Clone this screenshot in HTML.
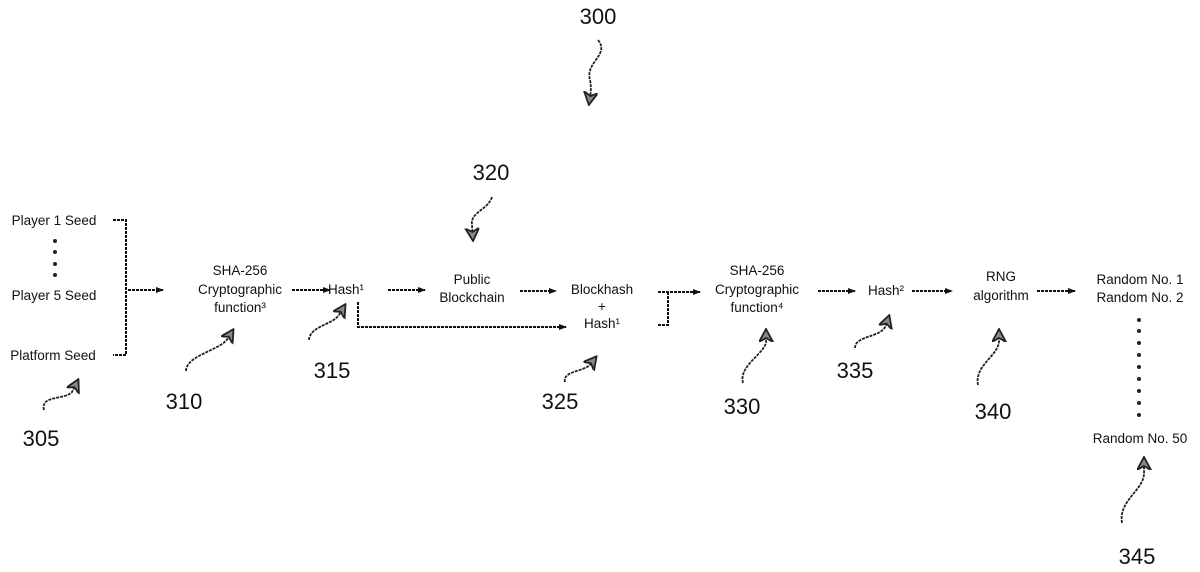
<!DOCTYPE html>
<html><head><meta charset="utf-8"><style>
html,body{margin:0;padding:0;background:#fff;}
svg{display:block;}
text{font-family:"Liberation Sans",sans-serif;fill:#111;}
.t{font-size:13.5px;text-anchor:middle;}
.n{font-size:22px;text-anchor:middle;fill:#111;}
.l{stroke:#111;stroke-width:2;fill:none;stroke-dasharray:3 1;}
.s{stroke:#222;stroke-width:1.8;fill:none;stroke-dasharray:3 1;}
</style></head><body>
<svg width="1200" height="572" viewBox="0 0 1200 572" xmlns="http://www.w3.org/2000/svg">
<defs>
<marker id="a" markerWidth="8" markerHeight="8" refX="7" refY="4" orient="auto" markerUnits="userSpaceOnUse"><path d="M0,1 L8,4 L0,7 Z" fill="#111"/></marker>
<marker id="b" markerWidth="14" markerHeight="16" refX="12" refY="7" orient="auto" markerUnits="userSpaceOnUse"><path d="M0,0 L13,7 L0,14 L4,7 Z" fill="#888" stroke="#222" stroke-width="1.8"/></marker>
</defs>

<text class="t" x="54" y="225">Player 1 Seed</text>
<g fill="#222"><circle cx="55" cy="241" r="2"/><circle cx="55" cy="252" r="2"/><circle cx="55" cy="264" r="2"/><circle cx="55" cy="275" r="2"/></g>
<text class="t" x="54" y="300">Player 5 Seed</text>
<text class="t" x="53" y="360">Platform Seed</text>
<path class="l" d="M113,220 H126 V355 H113"/>
<path class="l" d="M128,290 H163" marker-end="url(#a)"/>

<text class="t" x="240" y="275">SHA-256</text>
<text class="t" x="240" y="294">Cryptographic</text>
<text class="t" x="240" y="312">function³</text>
<path class="l" d="M292,290 H330" marker-end="url(#a)"/>
<text class="t" x="346" y="294">Hash¹</text>
<path class="l" d="M388,290 H425" marker-end="url(#a)"/>
<text class="t" x="472" y="284">Public</text>
<text class="t" x="472" y="302">Blockchain</text>
<path class="l" d="M520,291 H556" marker-end="url(#a)"/>
<text class="t" x="602" y="294">Blockhash</text>
<text class="t" x="602" y="311">+</text>
<text class="t" x="602" y="328">Hash¹</text>
<path class="l" d="M358,302 V327 H566" marker-end="url(#a)"/>
<path class="l" d="M658,292 H700" marker-end="url(#a)"/>
<path class="l" d="M668,292 V325 H658"/>
<text class="t" x="757" y="275">SHA-256</text>
<text class="t" x="757" y="294">Cryptographic</text>
<text class="t" x="757" y="312">function⁴</text>
<path class="l" d="M818,291 H855" marker-end="url(#a)"/>
<text class="t" x="886" y="295">Hash²</text>
<path class="l" d="M912,291 H952" marker-end="url(#a)"/>
<text class="t" x="1001" y="281">RNG</text>
<text class="t" x="1001" y="300">algorithm</text>
<path class="l" d="M1037,291 H1075" marker-end="url(#a)"/>
<text class="t" x="1140" y="284">Random No. 1</text>
<text class="t" x="1140" y="302">Random No. 2</text>
<g fill="#222">
<circle cx="1139" cy="320" r="2"/><circle cx="1139" cy="331" r="2"/><circle cx="1139" cy="343" r="2"/><circle cx="1139" cy="355" r="2"/><circle cx="1139" cy="367" r="2"/><circle cx="1139" cy="379" r="2"/><circle cx="1139" cy="391" r="2"/><circle cx="1139" cy="403" r="2"/><circle cx="1139" cy="415" r="2"/>
</g>
<text class="t" x="1140" y="443">Random No. 50</text>

<text class="n" x="598" y="24">300</text>
<path class="s" d="M598,40 C610,55 585,62 590,80 C592,90 590,98 589,104" marker-end="url(#b)"/>
<text class="n" x="491" y="180">320</text>
<path class="s" d="M492,197 C488,210 470,212 472,225 L473,240" marker-end="url(#b)"/>
<text class="n" x="41" y="446">305</text>
<path class="s" d="M44,410 C40,395 65,400 72,392 L78,380" marker-end="url(#b)"/>
<text class="n" x="184" y="409">310</text>
<path class="s" d="M186,371 C186,355 222,350 228,338 L233,330" marker-end="url(#b)"/>
<text class="n" x="332" y="378">315</text>
<path class="s" d="M309,340 C310,325 335,325 340,313 L345,305" marker-end="url(#b)"/>
<text class="n" x="560" y="409">325</text>
<path class="s" d="M565,382 C562,370 588,372 592,362 L596,357" marker-end="url(#b)"/>
<text class="n" x="742" y="414">330</text>
<path class="s" d="M743,383 C738,365 768,352 766,340 L766,330" marker-end="url(#b)"/>
<text class="n" x="855" y="378">335</text>
<path class="s" d="M855,348 C855,335 882,338 886,325 L889,316" marker-end="url(#b)"/>
<text class="n" x="993" y="419">340</text>
<path class="s" d="M978,385 C974,365 1000,355 999,340 L999,330" marker-end="url(#b)"/>
<text class="n" x="1137" y="564">345</text>
<path class="s" d="M1122,523 C1118,500 1145,490 1144,472 L1144,458" marker-end="url(#b)"/>
</svg>
</body></html>
